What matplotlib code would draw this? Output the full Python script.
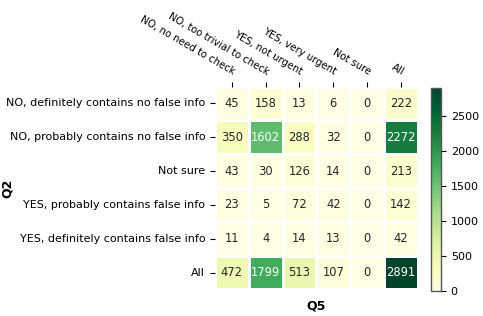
import numpy as np
import pandas as pd
import matplotlib
matplotlib.use("Agg")
import matplotlib.pyplot as plt
import seaborn as sns

q5_labels = ["NO, no need to check", "NO, too trivial to check", "YES, not urgent",
             "YES, very urgent", "Not sure", "All"]
q2_labels = ["NO, definitely contains no false info", "NO, probably contains no false info",
             "Not sure", "YES, probably contains false info",
             "YES, definitely contains false info", "All"]
counts = [
    [45, 158, 13, 6, 0, 222],
    [350, 1602, 288, 32, 0, 2272],
    [43, 30, 126, 14, 0, 213],
    [23, 5, 72, 42, 0, 142],
    [11, 4, 14, 13, 0, 42],
    [472, 1799, 513, 107, 0, 2891],
]

plt.rcParams["font.size"] = 8
df = pd.DataFrame(counts, index=q2_labels, columns=q5_labels)

fig = plt.figure(figsize=(4.83, 3.16), dpi=100)
ax = fig.add_axes([0.445, 0.08, 0.42, 0.65])
cax = fig.add_axes([0.893, 0.08, 0.02, 0.64])
sns.heatmap(df, annot=True, fmt="d", cmap="YlGn", linewidths=2, linecolor="white",
            ax=ax, cbar_ax=cax, square=True, annot_kws={"fontsize": 8.3})

# colorbar outline like the original
cbar = ax.collections[0].colorbar
cbar.outline.set_visible(True)
cbar.outline.set_linewidth(1)
cbar.outline.set_edgecolor("#555555")

ax.xaxis.tick_top()
plt.setp(ax.get_xticklabels(), rotation=-30, ha="right", rotation_mode="anchor",
         va="bottom", fontsize=7.2)
ax.set_xlabel("Q5", fontweight="bold", fontsize=9, labelpad=7)
ax.set_ylabel("Q2", fontweight="bold", fontsize=9)
ax.xaxis.set_label_position("bottom")
ax.yaxis.set_label_coords(-0.99, 0.5)

fig.savefig("out.png", dpi=100)
